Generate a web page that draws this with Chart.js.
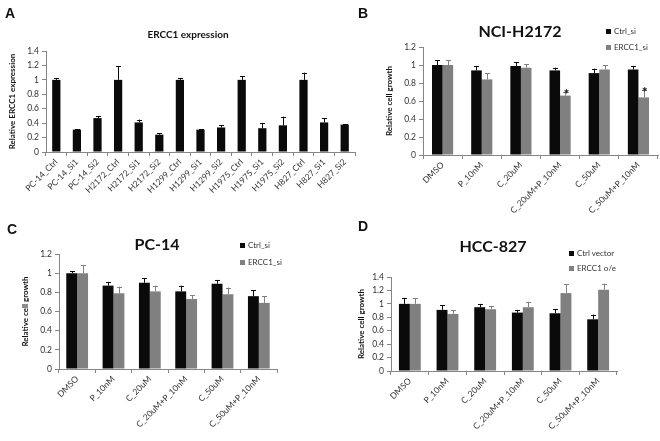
<!DOCTYPE html>
<html>
<head>
<meta charset="utf-8">
<script src="https://cdn.jsdelivr.net/npm/chart.js@4.4.0/dist/chart.umd.min.js"></script>
<style>
  body { margin: 0; background: #fff; }
  #wrap { position: relative; width: 660px; height: 441px; overflow: hidden; font-family: Lato, sans-serif; }
  canvas { position: absolute; }
  .txt { position: absolute; white-space: nowrap; color: #111; line-height: 1; }
  .letter { font-weight: bold; font-size: 14px; font-family: "Liberation Sans", Arial, sans-serif; }
  .title { font-weight: bold; transform: translate(-50%, -50%); }
  .leg { font-size: 8px; color: #333; transform: translateY(-50%); }
  .leg i { display: inline-block; width: 5px; height: 5px; margin-right: 3px; vertical-align: middle; }
</style>
</head>
<body>
<div id="wrap">
  <canvas id="cA" width="360" height="220" style="left:0;top:0"></canvas>
  <canvas id="cB" width="330" height="220" style="left:330px;top:0"></canvas>
  <canvas id="cC" width="330" height="221" style="left:0;top:220px"></canvas>
  <canvas id="cD" width="330" height="221" style="left:330px;top:220px"></canvas>

  <div class="txt letter" style="left:5px;top:6px">A</div>
  <div class="txt letter" style="left:358px;top:6px">B</div>
  <div class="txt letter" style="left:7px;top:222px">C</div>
  <div class="txt letter" style="left:358px;top:219px">D</div>

  <div class="txt title" style="left:188px;top:34px;font-size:10px">ERCC1 expression</div>
  <div class="txt title" style="left:520px;top:31px;font-size:16px">NCI-H2172</div>
  <div class="txt title" style="left:157px;top:244px;font-size:16px">PC-14</div>
  <div class="txt title" style="left:493px;top:246px;font-size:16px">HCC-827</div>

  <div class="txt leg" style="left:606px;top:31px"><i style="background:#0a0a0a"></i>Ctrl_si</div>
  <div class="txt leg" style="left:606px;top:47px"><i style="background:#808080"></i>ERCC1_si</div>
  <div class="txt leg" style="left:240px;top:245px"><i style="background:#0a0a0a"></i>Ctrl_si</div>
  <div class="txt leg" style="left:240px;top:262px"><i style="background:#808080"></i>ERCC1_si</div>
  <div class="txt leg" style="left:569px;top:253px"><i style="background:#0a0a0a"></i>Ctrl vector</div>
  <div class="txt leg" style="left:569px;top:268px"><i style="background:#808080"></i>ERCC1 o/e</div>
</div>
<script>
// panel A data
const samplesA = ['PC-14_Ctrl', 'PC-14_Si1', 'PC-14_Si2', 'H2172_Ctrl', 'H2172_Si1', 'H2172_Si2',
  'H1299_Ctrl', 'H1299_Si1', 'H1299_Si2', 'H1975_Ctrl', 'H1975_Si1', 'H1975_Si2',
  'H827_Ctrl', 'H827_Si1', 'H827_Si2'];
const exprA = [1.0, 0.31, 0.47, 1.0, 0.41, 0.24, 1.0, 0.31, 0.34, 1.0, 0.33, 0.37, 1.0, 0.41, 0.38];
const exprErrA = [0.02, 0.005, 0.03, 0.19, 0.04, 0.02, 0.02, 0.005, 0.03, 0.05, 0.07, 0.12, 0.1, 0.06, 0.005];

// treatments for B, C, D
const treatments = ['DMSO', 'P_10nM', 'C_20uM', 'C_20uM+P_10nM', 'C_50uM', 'C_50uM+P_10nM'];

const ctrlB = [1.0, 0.94, 0.99, 0.94, 0.91, 0.95];
const ctrlErrB = [0.05, 0.05, 0.04, 0.03, 0.05, 0.04];
const siB = [1.0, 0.84, 0.97, 0.66, 0.95, 0.64];
const siErrB = [0.05, 0.07, 0.04, 0.04, 0.05, 0.08];
const starsB = [false, false, false, true, false, true];

const ctrlC = [1.0, 0.87, 0.90, 0.81, 0.89, 0.76];
const ctrlErrC = [0.02, 0.04, 0.05, 0.06, 0.04, 0.06];
const siC = [1.0, 0.79, 0.81, 0.73, 0.78, 0.69];
const siErrC = [0.08, 0.07, 0.06, 0.04, 0.07, 0.07];

const ctrlD = [1.0, 0.91, 0.95, 0.87, 0.86, 0.77];
const ctrlErrD = [0.09, 0.07, 0.05, 0.04, 0.06, 0.07];
const oeD = [1.0, 0.85, 0.92, 0.95, 1.16, 1.21];
const oeErrD = [0.08, 0.06, 0.05, 0.08, 0.13, 0.09];

const BLACK = '#0a0a0a';
const GRAY = '#808080';
const AXIS = '#868686';
const FONT = 'Lato, sans-serif';

// draws upper error bars and significance stars
const errorBars = {
  id: 'errorBars',
  afterDatasetsDraw(chart) {
    const ctx = chart.ctx;
    const y = chart.scales.y;
    chart.data.datasets.forEach((ds, i) => {
      const meta = chart.getDatasetMeta(i);
      meta.data.forEach((bar, j) => {
        const top = y.getPixelForValue(ds.data[j] + ds.errors[j]);
        ctx.save();
        ctx.strokeStyle = ds.backgroundColor;
        ctx.lineWidth = 1;
        ctx.beginPath();
        ctx.moveTo(Math.round(bar.x) + 0.5, bar.y);
        ctx.lineTo(Math.round(bar.x) + 0.5, top);
        ctx.moveTo(Math.round(bar.x) - 2, Math.round(top) + 0.5);
        ctx.lineTo(Math.round(bar.x) + 3, Math.round(top) + 0.5);
        ctx.stroke();
        if (ds.stars && ds.stars[j]) {
          ctx.fillStyle = '#111';
          ctx.font = 'bold 14px ' + FONT;
          ctx.textAlign = 'center';
          ctx.textBaseline = 'alphabetic';
          ctx.fillText('*', bar.x + 1, top + 7);
        }
        ctx.restore();
      });
    });
  }
};

function makeOptions(yMax, yTitle, pad, yWidth, xHeight) {
  return {
    responsive: false,
    animation: false,
    devicePixelRatio: 1,
    layout: { padding: pad },
    plugins: { legend: { display: false }, tooltip: { enabled: false } },
    scales: {
      x: {
        grid: { drawOnChartArea: false, tickLength: 4, color: AXIS },
        border: { color: AXIS },
        ticks: { autoSkip: false, minRotation: 45, maxRotation: 45, padding: 1, color: '#333', font: { family: FONT, size: 8.5 } },
        afterFit(s) { s.height = xHeight; }
      },
      y: {
        min: 0,
        max: yMax,
        grid: { drawOnChartArea: false, tickLength: 4, color: AXIS },
        border: { color: AXIS },
        ticks: {
          stepSize: 0.2, padding: 3, color: '#333', font: { family: FONT, size: 8.5 },
          callback: v => String(Math.round(v * 10) / 10)
        },
        title: { display: true, text: yTitle, color: '#111', padding: 0, font: { family: FONT, size: 8, weight: 'bold' } },
        afterFit(s) { s.width = yWidth; }
      }
    }
  };
}

new Chart(document.getElementById('cA'), {
  type: 'bar',
  data: {
    labels: samplesA,
    datasets: [{ data: exprA, errors: exprErrA, backgroundColor: BLACK, barPercentage: 0.4, categoryPercentage: 1 }]
  },
  options: makeOptions(1.4, 'Relative ERCC1 expression', { left: 8, right: 5, top: 51, bottom: 0 }, 38, 68),
  plugins: [errorBars]
});

function pairChart(id, a, aErr, b, bErr, stars, yMax, pad, yWidth, xHeight, catPct) {
  new Chart(document.getElementById(id), {
    type: 'bar',
    data: {
      labels: treatments,
      datasets: [
        { data: a, errors: aErr, backgroundColor: BLACK, barPercentage: 1, categoryPercentage: catPct },
        { data: b, errors: bErr, stars: stars, backgroundColor: GRAY, barPercentage: 1, categoryPercentage: catPct }
      ]
    },
    options: makeOptions(yMax, 'Relative cell growth', pad, yWidth, xHeight),
    plugins: [errorBars]
  });
}

pairChart('cB', ctrlB, ctrlErrB, siB, siErrB, starsB, 1.2, { left: 55, right: 2, top: 47, bottom: 0 }, 38, 65, 0.54);
pairChart('cC', ctrlC, ctrlErrC, siC, siErrC, null, 1.2, { left: 21, right: 53, top: 34, bottom: 0 }, 38, 72, 0.6);
pairChart('cD', ctrlD, ctrlErrD, oeD, oeErrD, null, 1.4, { left: 27, right: 43, top: 57, bottom: 0 }, 34, 70, 0.58);
</script>
</body>
</html>
